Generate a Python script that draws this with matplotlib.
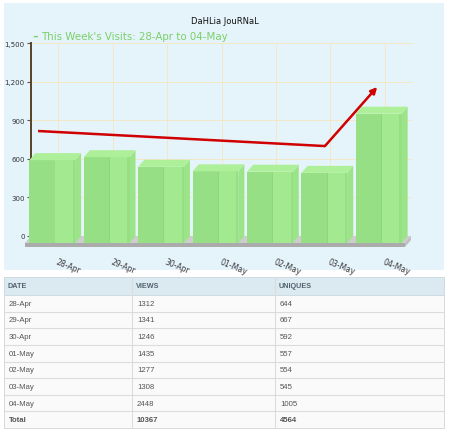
import matplotlib
matplotlib.use("Agg")
import matplotlib.pyplot as plt
from matplotlib.patches import Rectangle, Polygon
import numpy as np

# ---- data ----
dates = ["28-Apr", "29-Apr", "30-Apr", "01-May", "02-May", "03-May", "04-May"]
views = [1312, 1341, 1246, 1435, 1277, 1308, 2448]
uniques = [644, 667, 592, 557, 554, 545, 1005]
total_label = "Total"
total_views = 10367
total_uniques = 4564
yticks = [0, 300, 600, 900, 1200, 1500]
ytick_labels = ["0", "300", "600", "900", "1,200", "1,500"]
title = "DaHLia JouRNaL"
legend_label = "This Week's Visits: 28-Apr to 04-May"
# trend arrow (x in category units, y in chart units)
trend_x = [-0.37, 4.90, 5.86]
trend_y = [816, 699, 1158]
headers = ["DATE", "VIEWS", "UNIQUES"]

W, H = 450, 435
fig = plt.figure(figsize=(W / 100, H / 100), dpi=100)
fig.patch.set_facecolor("white")

def fx(px):
    return px / W

def fy(py):
    return 1 - py / H

# chart panel background
fig.patches.append(Rectangle((fx(4), fy(271)), fx(440), 267 / H, transform=fig.transFigure,
                             facecolor="#e5f3fb", edgecolor="none", zorder=-10))

ax_l, ax_r, ax_t, ax_b = 31, 412, 44, 237
ax = fig.add_axes([fx(ax_l), fy(ax_b), (ax_r - ax_l) / W, (ax_b - ax_t) / H])
ax.set_zorder(1)
ax.set_facecolor("none")
n = len(dates)
ax.set_xlim(-0.5, n - 0.5)
ax.set_ylim(0, 1500)

# pixel -> data conversions
ux = (n) / (ax_r - ax_l)
uy = 1500 / (ax_b - ax_t)
dx = 6 * ux
dy = 7 * uy

# gridlines
ax.set_yticks(yticks)
ax.set_yticklabels(ytick_labels, fontsize=5, color="#333333")
ax.set_xticks(range(n))
ax.set_xticklabels(dates, fontsize=5.6, color="#3a3a3a", rotation=-22,
                   ha="left", rotation_mode="anchor")
ax.tick_params(axis="x", length=0, pad=15)
ax.tick_params(axis="y", length=3, width=0.8, color="#555555", pad=1.5)
ax.grid(True, color="#f3e7c6", linewidth=0.7, zorder=0)
ax.set_axisbelow(True)
for s in ["top", "right", "bottom"]:
    ax.spines[s].set_visible(False)
ax.spines["left"].set_color("#5a4326")
ax.spines["left"].set_linewidth(1.4)

# floor
floor_th = 4 * uy
x0f, x1f = -0.5, n - 0.5 - 0.02
ax.add_patch(Polygon([(x0f, 0), (x1f, 0), (x1f - dx, -dy), (x0f - dx, -dy)],
                     closed=True, facecolor="#cdcdcd", edgecolor="none", clip_on=False, zorder=2))
ax.add_patch(Polygon([(x0f - dx, -dy), (x1f - dx, -dy), (x1f - dx, -dy - floor_th), (x0f - dx, -dy - floor_th)],
                     closed=True, facecolor="#ababab", edgecolor="none", clip_on=False, zorder=2))
ax.add_patch(Polygon([(x1f - dx, -dy), (x1f, 0), (x1f, -floor_th), (x1f - dx, -dy - floor_th)],
                     closed=True, facecolor="#bdbdbd", edgecolor="none", clip_on=False, zorder=2))

# 3D bars
bw = 0.84
for i, v in enumerate(uniques):
    l, r = i - bw / 2, i + bw / 2
    # shadow
    ax.add_patch(Rectangle((r - dx, -dy), 2.5 * ux, v - dy * 0.5, facecolor="#c7d3d0",
                           edgecolor="none", clip_on=False, zorder=3, alpha=0.8))
    # side face
    ax.add_patch(Polygon([(r - dx, -dy), (r, 0), (r, v), (r - dx, v - dy)], closed=True,
                         facecolor="#9be488", edgecolor="none", clip_on=False, zorder=4))
    # front face
    ax.add_patch(Rectangle((l - dx, -dy), bw, v, facecolor="#97df84", edgecolor="none",
                           clip_on=False, zorder=5))
    ax.add_patch(Rectangle((l - dx + bw * 0.55, -dy), bw * 0.4, v, facecolor="#a2e98f",
                           edgecolor="none", clip_on=False, zorder=5))
    ax.add_patch(Rectangle((l - dx + bw * 0.55, -dy), bw * 0.02, v, facecolor="#90d67d",
                           edgecolor="none", clip_on=False, zorder=5))
    # top face
    ax.add_patch(Polygon([(l - dx, v - dy), (r - dx, v - dy), (r, v), (l, v)], closed=True,
                         facecolor="#aef09a", edgecolor="none", clip_on=False, zorder=6))

# trend line with arrow
ax.plot(trend_x[:2], trend_y[:2], color="#d00000", linewidth=1.8, zorder=8,
        solid_capstyle="butt")
ax.annotate("", xy=(trend_x[2], trend_y[2]), xytext=(trend_x[1], trend_y[1]),
            arrowprops=dict(arrowstyle="-|>", color="#d00000", lw=1.8,
                            mutation_scale=9, shrinkA=0, shrinkB=0), zorder=8)

# title & legend
fig.text(fx(225), fy(21), title, fontsize=6, color="#111111", ha="center", va="center")
fig.text(fx(32), fy(37), "\u2013", fontsize=8, color="#7bd068", ha="left", va="center",
         fontweight="bold")
fig.text(fx(41), fy(37), legend_label, fontsize=7.4, color="#7bd068", ha="left", va="center")

# ---- table ----
col_x = [4, 132, 275, 444]
t_top, h_bot, t_bot = 278, 296, 429
rows = [[d, str(v), str(u)] for d, v, u in zip(dates, views, uniques)]
rows.append([total_label, str(total_views), str(total_uniques)])
rh = (t_bot - h_bot) / len(rows)

def frect(x0, y0, x1, y1, fc, ec="none", lw=0.0, z=1):
    fig.patches.append(Rectangle((fx(x0), fy(y1)), fx(x1 - x0), (y1 - y0) / H,
                                 transform=fig.transFigure, facecolor=fc, edgecolor=ec,
                                 linewidth=lw, zorder=z))

frect(col_x[0], t_top, col_x[-1], t_bot, "#fafafa", "#d8d8d8", 0.7)
frect(col_x[0], t_top, col_x[-1], h_bot, "#dbe9f1", "#cfdbe2", 0.7)
for k in range(1, len(rows)):
    yy = h_bot + k * rh
    fig.add_artist(plt.Line2D([fx(col_x[0]), fx(col_x[-1])], [fy(yy), fy(yy)],
                              color="#dcdcdc", linewidth=0.8, transform=fig.transFigure))
for cx in col_x[1:-1]:
    fig.add_artist(plt.Line2D([fx(cx), fx(cx)], [fy(t_top), fy(t_bot)],
                              color="#dcdcdc", linewidth=0.8, transform=fig.transFigure))
for j, h in enumerate(headers):
    fig.text(fx(col_x[j] + 4), fy((t_top + h_bot) / 2), h, fontsize=5.2,
             family="Liberation Sans", fontweight="bold", color="#52626e", ha="left", va="center")
for k, row in enumerate(rows):
    yc = h_bot + (k + 0.5) * rh
    bold = (k == len(rows) - 1)
    for j, c in enumerate(row):
        fig.text(fx(col_x[j] + 5), fy(yc), c, fontsize=5.6, family="Liberation Sans",
                 fontweight="bold" if bold else "normal", color="#555555",
                 ha="left", va="center")

fig.savefig("out.png", dpi=100)
